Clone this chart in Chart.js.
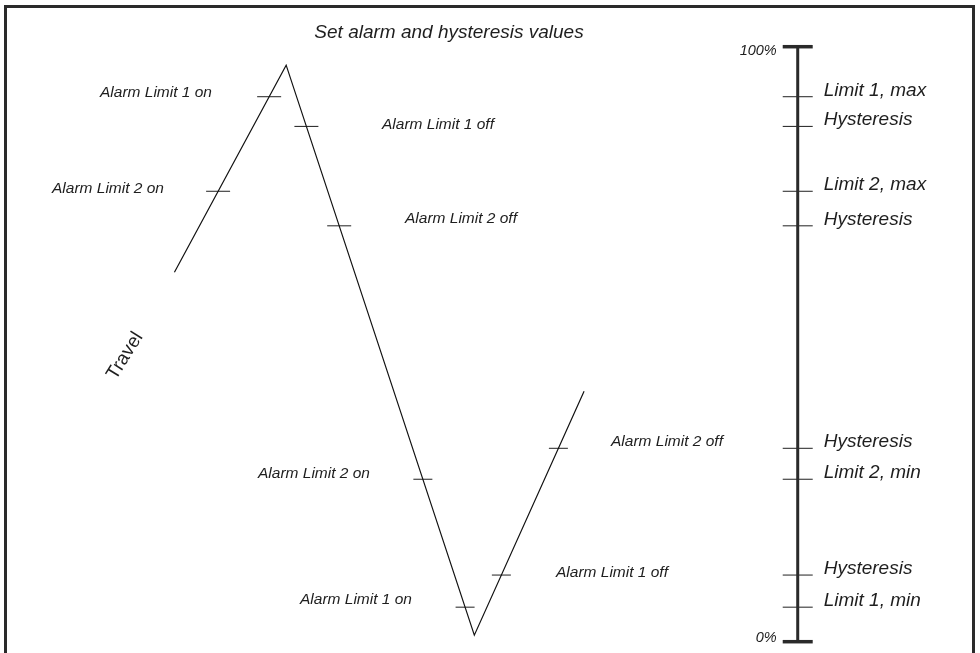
<!DOCTYPE html>
<html>
<head>
<meta charset="utf-8">
<script src="https://cdn.jsdelivr.net/npm/chart.js@4/dist/chart.umd.min.js"></script>
<style>
  html, body { margin: 0; padding: 0; background: #fff; }
  #wrap { width: 980px; height: 653px; position: relative; }
  canvas { display: block; }
</style>
</head>
<body>
<div id="wrap"><canvas id="c" width="980" height="653"></canvas></div>
<script>
// ---- data ----
const travelTime = [17.8, 29.2, 48.4, 59.6];      // arbitrary time units
const travelPct  = [62.1, 96.9, 1.1, 42.1];       // travel, %

const levelNames = ['Limit 1, max', 'Hysteresis', 'Limit 2, max', 'Hysteresis',
                    'Hysteresis', 'Limit 2, min', 'Hysteresis', 'Limit 1, min'];
const levelPct   = [91.6, 86.6, 75.7, 69.9, 32.5, 27.3, 11.2, 5.8];

const eventNames   = ['Alarm Limit 2 on', 'Alarm Limit 1 on', 'Alarm Limit 1 off', 'Alarm Limit 2 off',
                      'Alarm Limit 2 on', 'Alarm Limit 1 on', 'Alarm Limit 1 off', 'Alarm Limit 2 off'];
const eventSegment = [0, 0, 1, 1, 1, 1, 2, 2];
const eventPct     = [75.7, 91.6, 86.6, 69.9, 27.3, 5.8, 11.2, 32.5];

const scaleEndPct    = [0, 100];
const scaleEndLabels = ['0%', '100%'];
const axisTime = 81.4;

const titleText = 'Set alarm and hysteresis values';
const travelLabel = 'Travel';

// ---- layout (pixels) ----
const eventLabelPos = [
  [52, 189], [100, 93], [382, 125], [405, 219],
  [258, 474], [300, 600], [556, 573], [611, 442]
];
const INK = '#1e1e1e';

// crossing time of each event on its travel segment
function crossTime(seg, v) {
  const t0 = travelTime[seg], t1 = travelTime[seg + 1];
  const v0 = travelPct[seg], v1 = travelPct[seg + 1];
  return t0 + (v - v0) / (v1 - v0) * (t1 - t0);
}
const eventPoints = eventPct.map((v, i) => ({ x: crossTime(eventSegment[i], v), y: v }));
const eventRadius = eventSegment.map((s, i) => i < 4 ? 12 : 9.5);

const travelPoints = travelTime.map((t, i) => ({ x: t, y: travelPct[i] }));
const levelPoints = levelPct.map(v => ({ x: axisTime, y: v }));
const endPoints = scaleEndPct.map(v => ({ x: axisTime, y: v }));
const axisLine = scaleEndPct.map(v => ({ x: axisTime, y: v }));

const decorPlugin = {
  id: 'decor',
  beforeDraw(chart) {
    const ctx = chart.ctx;
    ctx.save();
    ctx.fillStyle = '#ffffff';
    ctx.fillRect(0, 0, chart.width, chart.height);
    ctx.strokeStyle = '#2a2a2a';
    ctx.lineWidth = 3;
    ctx.beginPath();
    ctx.moveTo(5.5, 653);
    ctx.lineTo(5.5, 6.5);
    ctx.lineTo(973.5, 6.5);
    ctx.lineTo(973.5, 653);
    ctx.stroke();
    ctx.restore();
  },
  afterDatasetsDraw(chart) {
    const ctx = chart.ctx;
    const xs = chart.scales.x, ys = chart.scales.y;
    ctx.save();
    ctx.fillStyle = INK;
    // title
    ctx.font = 'italic 19px "Liberation Sans", Arial, sans-serif';
    ctx.textAlign = 'center';
    ctx.textBaseline = 'middle';
    ctx.fillText(titleText, 449, 33);
    // event labels
    ctx.font = 'italic 15.5px "Liberation Sans", Arial, sans-serif';
    ctx.textAlign = 'left';
    eventNames.forEach((n, i) => ctx.fillText(n, eventLabelPos[i][0], eventLabelPos[i][1]));
    // level labels
    const ax = xs.getPixelForValue(axisTime);
    ctx.font = 'italic 19px "Liberation Sans", Arial, sans-serif';
    ctx.textBaseline = 'alphabetic';
    levelNames.forEach((n, i) => ctx.fillText(n, ax + 26, ys.getPixelForValue(levelPct[i]) - 1));
    // scale end labels
    ctx.font = 'italic 14.5px "Liberation Sans", Arial, sans-serif';
    ctx.textAlign = 'right';
    ctx.textBaseline = 'middle';
    ctx.fillText(scaleEndLabels[1], ax - 21, ys.getPixelForValue(scaleEndPct[1]) + 4);
    ctx.fillText(scaleEndLabels[0], ax - 21, ys.getPixelForValue(scaleEndPct[0]) - 4);
    // travel label
    ctx.save();
    ctx.translate(125, 356);
    ctx.rotate(-58 * Math.PI / 180);
    ctx.font = '19px "Liberation Sans", Arial, sans-serif';
    ctx.textAlign = 'center';
    ctx.textBaseline = 'middle';
    ctx.fillText(travelLabel, 0, 0);
    ctx.restore();
    ctx.restore();
  }
};

new Chart(document.getElementById('c'), {
  type: 'scatter',
  data: {
    datasets: [
      { data: travelPoints, showLine: true, borderColor: '#111', borderWidth: 1.2,
        pointRadius: 0, tension: 0, clip: false },
      { data: eventPoints, pointStyle: 'line', pointRadius: eventRadius,
        borderColor: '#333', pointBorderColor: '#333', pointBorderWidth: 1.1, showLine: false, clip: false },
      { data: axisLine, showLine: true, borderColor: '#2a2a2a', borderWidth: 3, pointRadius: 0, clip: false },
      { data: levelPoints, pointStyle: 'line', pointRadius: 15,
        pointBorderColor: '#333', pointBorderWidth: 1.1, showLine: false, clip: false },
      { data: endPoints, pointStyle: 'line', pointRadius: 15,
        pointBorderColor: '#2a2a2a', pointBorderWidth: 3.5, showLine: false, clip: false }
    ]
  },
  options: {
    responsive: false,
    animation: false,
    devicePixelRatio: 1,
    layout: { padding: 0, autoPadding: false },
    plugins: { legend: { display: false }, tooltip: { enabled: false }, title: { display: false } },
    events: [],
    scales: {
      x: { type: 'linear', min: 0, max: 100, display: false },
      y: { type: 'linear', min: -1.9, max: 107.85, display: false }
    }
  },
  plugins: [decorPlugin]
});
</script>
</body>
</html>
